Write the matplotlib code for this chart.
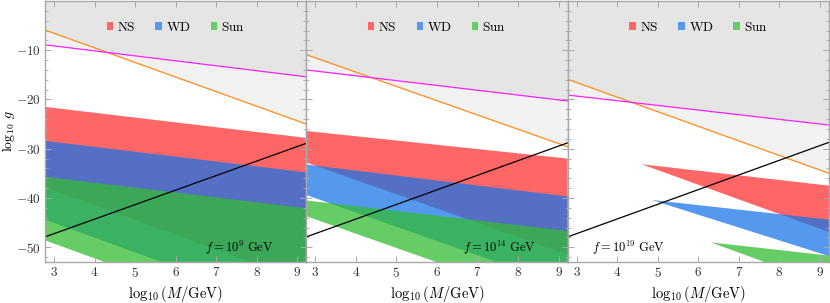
import numpy as np
import matplotlib
matplotlib.use("Agg")
import matplotlib.pyplot as plt
from matplotlib.patches import Patch

plt.rcParams['mathtext.fontset'] = 'cm'
plt.rcParams['font.family'] = ['DejaVu Serif']

# ---- data ----
x_range = [2.78, 9.22]          # log10(M/GeV) axis range
y_range = [-53.0, 0.0]          # log10 g axis range
f_labels = [r'$f = 10^{9}\ \mathrm{GeV}$', r'$f = 10^{14}\ \mathrm{GeV}$', r'$f = 10^{19}\ \mathrm{GeV}$']

# line values at the left / right edge (x=2.78 / x=9.22) for each panel
orange_left = [-5.9, -10.9, -15.9]
orange_right = [-25.0, -29.6, -35.0]
magenta_left = [-8.9, -14.0, -19.1]
magenta_right = [-15.4, -20.3, -25.2]
black_left = [-47.9, -47.9, -47.9]
black_right = [-28.9, -28.8, -28.7]

# region boundaries: upper (U) and lower (L) lines, left / right edge values
ns_U_left = [-21.5, -26.4, -31.44]
ns_U_right = [-27.8, -32.0, -37.5]
ns_L_left = [-37.8, -32.8, -27.73]
ns_L_right = [-57.1, -51.5, -46.9]

wd_U_left = [-28.4, -33.2, -38.5]
wd_U_right = [-34.8, -39.7, -44.4]
wd_L_left = [-44.4, -39.4, -35.0]
wd_L_right = [-63.7, -58.1, -51.8]

sun_U_left = [-35.7, -40.5, -45.75]
sun_U_right = [-42.1, -46.7, -51.7]
sun_L_left = [-48.6, -43.7, -38.44]
sun_L_right = [-67.9, -62.4, -57.76]

labels = ['NS', 'WD', 'Sun']
colors = ['#ff2d2d', '#1673e8', '#33bb33']
alphas = [0.73, 0.73, 0.75]
legend_colors = ['#ff6666', '#5599ee', '#66cc66']

x_ticks = [3, 4, 5, 6, 7, 8, 9]
y_ticks = [-50, -40, -30, -20, -10]


def band_vertices(x0, x1, u0, u1, l0, l1):
    d0, d1 = u0 - l0, u1 - l1
    if d0 >= 0 and d1 >= 0:
        return [(x0, l0), (x1, l1), (x1, u1), (x0, u0)]
    if d0 < 0 and d1 < 0:
        return None
    t = d0 / (d0 - d1)
    xi = x0 + t * (x1 - x0)
    yi = u0 + t * (u1 - u0)
    if d0 < 0:
        return [(xi, yi), (x1, l1), (x1, u1)]
    return [(x0, l0), (xi, yi), (x0, u0)]


W, H = 830, 303
fig = plt.figure(figsize=(W / 100, H / 100), dpi=100)

left_px, right_px = 45, 829
top_px, bot_px = 1, 262
pw = (right_px - left_px) / 3
frame_col = '#a8a8a8'

regions = [
    (ns_U_left, ns_U_right, ns_L_left, ns_L_right),
    (wd_U_left, wd_U_right, wd_L_left, wd_L_right),
    (sun_U_left, sun_U_right, sun_L_left, sun_L_right),
]

for i in range(3):
    ax = fig.add_axes([(left_px + i * pw) / W, (H - bot_px) / H, pw / W, (bot_px - top_px) / H])
    x0, x1 = x_range
    xs = np.array(x_range)

    # excluded (gray) regions above orange and magenta lines
    ax.fill_between(xs, [orange_left[i], orange_right[i]], y_range[1] + 5, color='k', alpha=0.05, lw=0)
    ax.fill_between(xs, [magenta_left[i], magenta_right[i]], y_range[1] + 5, color='k', alpha=0.05, lw=0)

    for (Ul, Ur, Ll, Lr), c, a in zip(regions, colors, alphas):
        v = band_vertices(x0, x1, Ul[i], Ur[i], Ll[i], Lr[i])
        if v is not None:
            vx, vy = zip(*v)
            ax.fill(vx, vy, color=c, alpha=a, lw=0)

    ax.plot(xs, [orange_left[i], orange_right[i]], color='#ff8c1a', lw=0.9)
    ax.plot(xs, [magenta_left[i], magenta_right[i]], color='#ff22ff', lw=0.9)
    ax.plot(xs, [black_left[i], black_right[i]], color='black', lw=0.9)

    ax.set_xlim(*x_range)
    ax.set_ylim(*y_range)

    ax.set_xticks(x_ticks)
    ax.set_xticklabels([f'${t}$' for t in x_ticks], fontsize=9.5, color='#333333')
    ax.set_yticks(y_ticks)
    ax.set_yticks(np.arange(-52, 0, 2), minor=True)
    if i == 0:
        ax.set_yticklabels([f'${t}$' for t in y_ticks], fontsize=9.5, color='#333333')
        ax.set_ylabel(r'$\log_{10}\,g$', fontsize=10)
        ax.yaxis.set_label_coords(-0.108, 0.5)
    else:
        ax.set_yticklabels([])
    ax.tick_params(which='both', direction='in', color=frame_col, top=True, right=True, pad=3)
    ax.tick_params(which='major', length=4, width=0.7)
    ax.tick_params(which='minor', length=2.5, width=0.6)
    for s in ax.spines.values():
        s.set_color(frame_col)
        s.set_linewidth(1.0)
    ax.set_xlabel(r'$\log_{10}(M/\mathrm{GeV})$', fontsize=10.5, labelpad=3)

    handles = [Patch(facecolor=lc, edgecolor='none') for lc in legend_colors]
    ax.legend(handles, [rf'$\mathrm{{{l}}}$' for l in labels], loc='center', bbox_to_anchor=(0.5, 0.90),
              ncol=3, frameon=False, fontsize=9.5, handlelength=0.5, handleheight=0.5,
              handletextpad=0.3, columnspacing=1.5, borderaxespad=0)

    if i < 2:
        xr = [0.873, 0.879][i]
        ax.text(xr, 0.055, f_labels[i], transform=ax.transAxes, ha='right', va='center', fontsize=9)
    else:
        ax.text(0.095, 0.055, f_labels[i], transform=ax.transAxes, ha='left', va='center', fontsize=9)

fig.savefig('out.png', dpi=100)
